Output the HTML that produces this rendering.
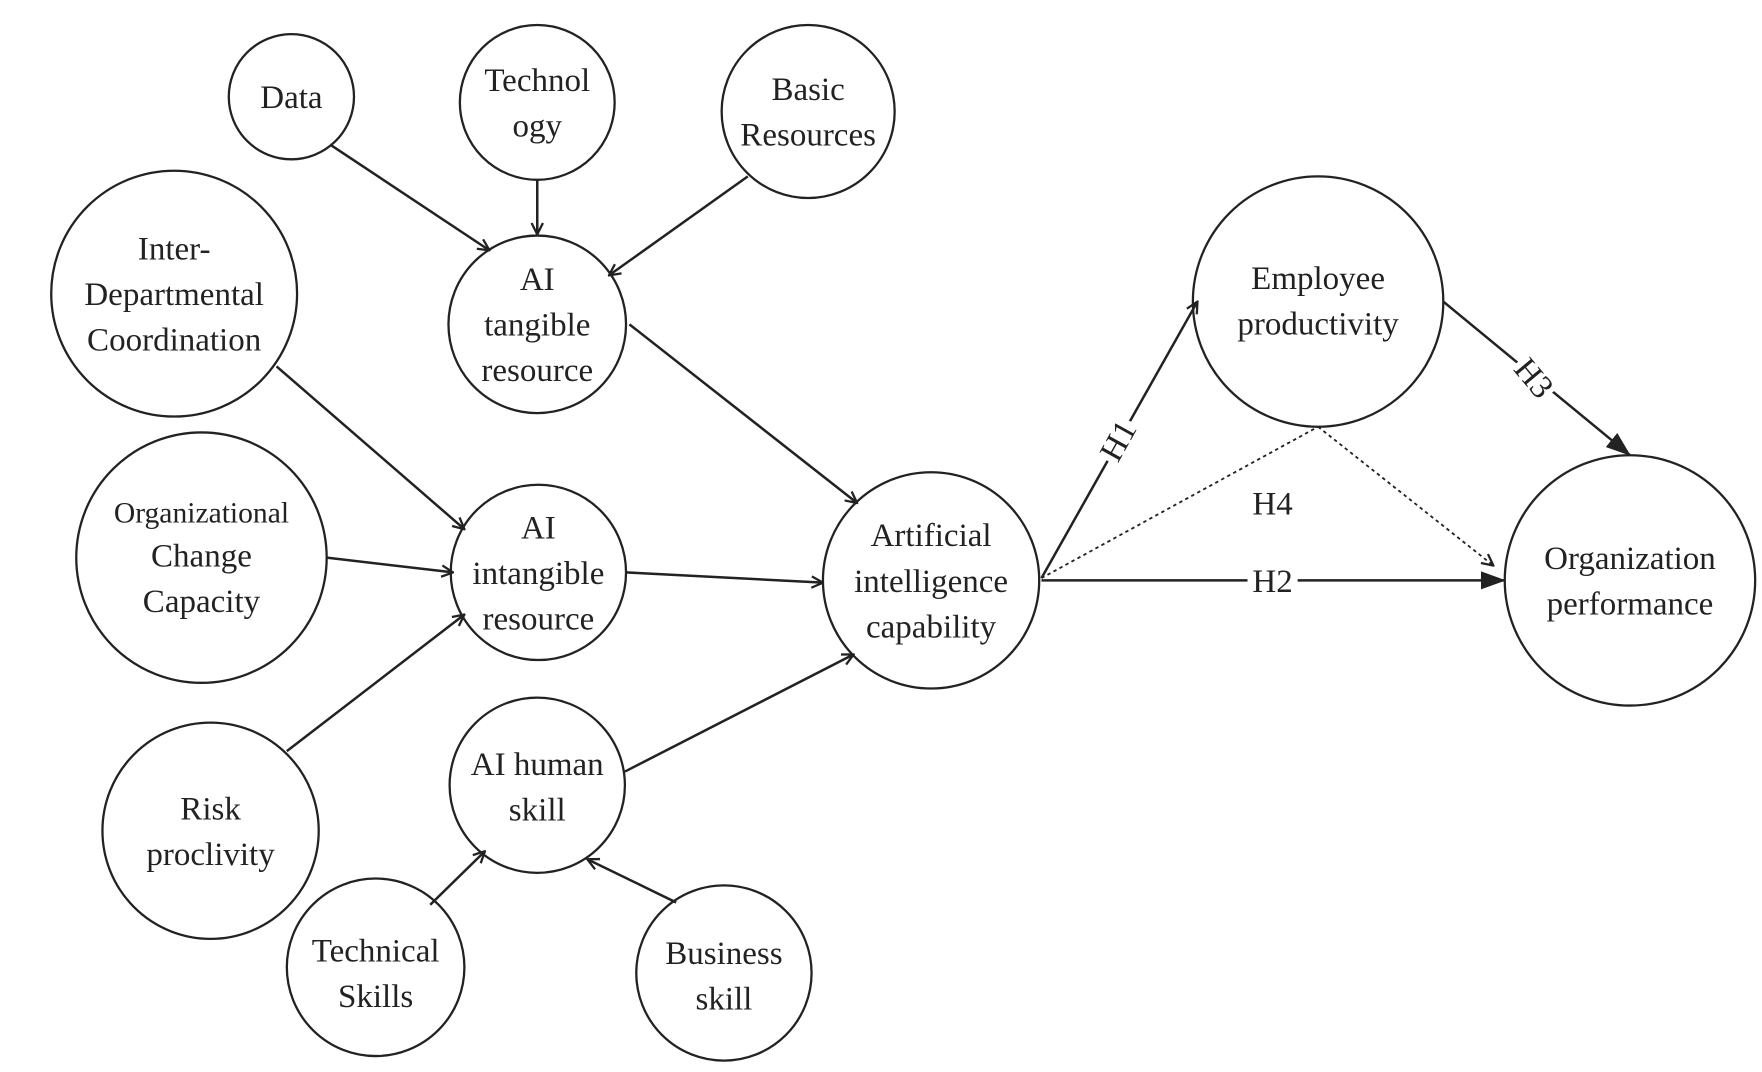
<!DOCTYPE html>
<html><head><meta charset="utf-8"><style>html,body{margin:0;padding:0;background:#fff}svg{display:block}</style></head><body>
<svg width="1762" height="1072" viewBox="0 0 1548 942" preserveAspectRatio="none" xmlns="http://www.w3.org/2000/svg" font-family="Liberation Serif, serif" font-size="29" fill="#222">
<defs>
<marker id="o" viewBox="0 0 12 12" refX="11" refY="6" markerWidth="12" markerHeight="12" markerUnits="userSpaceOnUse" orient="auto"><path d="M1,1 L11,6 L1,11" fill="none" stroke="#222" stroke-width="2"/></marker>
<marker id="f" viewBox="0 0 22 16" refX="21" refY="8" markerWidth="22" markerHeight="16" markerUnits="userSpaceOnUse" orient="auto"><path d="M0,0 L22,8 L0,16 z" fill="#222"/></marker>
</defs>
<g fill="#fff" stroke="#222" stroke-width="2">
<circle cx="256" cy="85" r="55"/><circle cx="472" cy="90" r="68"/><circle cx="710" cy="98" r="76"/>
<circle cx="153" cy="258" r="108"/><circle cx="472" cy="285" r="78"/><circle cx="177" cy="490" r="110"/>
<circle cx="473" cy="503" r="77"/><circle cx="185" cy="730" r="95"/><circle cx="472" cy="690" r="77"/>
<circle cx="330" cy="850" r="78"/><circle cx="636" cy="855" r="77"/><circle cx="818" cy="510" r="95"/>
<circle cx="1158" cy="265" r="110"/><circle cx="1432" cy="510" r="110"/>
</g>
<g stroke="#222" stroke-width="2.2" fill="none">
<line x1="290" y1="127" x2="430" y2="220" marker-end="url(#o)"/>
<line x1="472" y1="158" x2="472" y2="206" marker-end="url(#o)"/>
<line x1="657" y1="155" x2="535" y2="242" marker-end="url(#o)"/>
<line x1="553" y1="285" x2="753" y2="442" marker-end="url(#o)"/>
<line x1="243" y1="322" x2="408" y2="465" marker-end="url(#o)"/>
<line x1="287" y1="490" x2="398" y2="503" marker-end="url(#o)"/>
<line x1="252" y1="660" x2="408" y2="540" marker-end="url(#o)"/>
<line x1="550" y1="503" x2="723" y2="512" marker-end="url(#o)"/>
<line x1="549" y1="678" x2="750" y2="575" marker-end="url(#o)"/>
<line x1="378" y1="795" x2="426" y2="748" marker-end="url(#o)"/>
<line x1="594" y1="793" x2="516" y2="755" marker-end="url(#o)"/>
<line x1="915" y1="508" x2="1052" y2="265" marker-end="url(#o)"/>
<line x1="915" y1="510" x2="1322" y2="510" marker-end="url(#f)"/>
<line x1="1268" y1="265" x2="1432" y2="400" marker-end="url(#f)"/>
<line x1="915" y1="508" x2="1158" y2="375" stroke-width="1.6" stroke-dasharray="3,3"/>
<line x1="1158" y1="375" x2="1312" y2="497" stroke-width="1.6" stroke-dasharray="3,3" marker-end="url(#o)"/>
</g>
<g text-anchor="middle">
<text x="256" y="95">Data</text>
<text x="472" y="80">Technol</text><text x="472" y="120">ogy</text>
<text x="710" y="88">Basic</text><text x="710" y="128">Resources</text>
<text x="153" y="228">Inter-</text><text x="153" y="268">Departmental</text><text x="153" y="308">Coordination</text>
<text x="472" y="255">AI</text><text x="472" y="295">tangible</text><text x="472" y="335">resource</text>
<text x="177" y="459" font-size="26">Organizational</text><text x="177" y="498">Change</text><text x="177" y="538">Capacity</text>
<text x="473" y="473">AI</text><text x="473" y="513">intangible</text><text x="473" y="553">resource</text>
<text x="185" y="720">Risk</text><text x="185" y="760">proclivity</text>
<text x="472" y="681">AI human</text><text x="472" y="721">skill</text>
<text x="330" y="845">Technical</text><text x="330" y="885">Skills</text>
<text x="636" y="847">Business</text><text x="636" y="887">skill</text>
<text x="818" y="480">Artificial</text><text x="818" y="520">intelligence</text><text x="818" y="560">capability</text>
<text x="1158" y="254">Employee</text><text x="1158" y="294">productivity</text>
<text x="1432" y="500">Organization</text><text x="1432" y="540">performance</text>
<text x="1118" y="452">H4</text>
<rect x="1096" y="496" width="44" height="28" fill="#fff"/>
<text x="1118" y="520">H2</text>
<g transform="rotate(-61 982 387)"><rect x="962" y="374" width="40" height="26" fill="#fff"/><text x="982" y="397">H1</text></g>
<g transform="rotate(50 1348 332)"><rect x="1328" y="319" width="40" height="26" fill="#fff"/><text x="1348" y="342">H3</text></g>
</g>
</svg>
</body></html>
